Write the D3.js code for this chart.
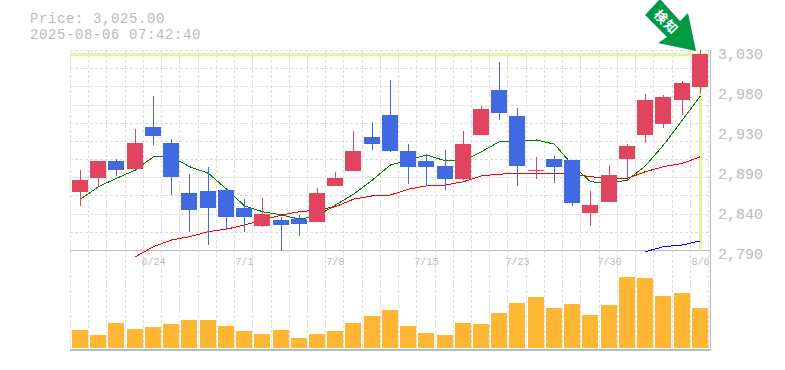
<!DOCTYPE html>
<html>
<head>
<meta charset="utf-8">
<script src="https://cdn.jsdelivr.net/npm/d3@7"></script>
<style>
  html, body { margin: 0; padding: 0; background: #fff; }
  svg { display: block; }
  text { font-family: "Liberation Mono", "DejaVu Sans Mono", monospace; fill: #bbb; }
</style>
</head>
<body>
<svg width="785" height="370"></svg>
<script>
// Values
const opens  = [2860,2876,2897,2887,2938,2918,2858,2861,2862,2840,2819,2826,2827,2824,2867,2885,2926,2952,2909,2897,2891,2875,2928,2982,2951,2885,2899,2898,2834,2848,2899,2928,2941,2970,2986];
const highs  = [2886,2897,2899,2935,2975,2923,2881,2890,2862,2851,2852,2830,2832,2864,2884,2933,2944,2994,2917,2904,2910,2933,2963,3016,2960,2902,2903,2898,2861,2892,2917,2977,2976,2993,3030];
const lows   = [2843,2866,2879,2887,2916,2856,2812,2796,2814,2812,2818,2789,2807,2824,2867,2885,2910,2908,2869,2867,2862,2874,2928,2946,2867,2875,2870,2843,2819,2848,2876,2918,2936,2952,2978];
const closes = [2874,2897,2886,2918,2927,2878,2838,2840,2830,2830,2833,2820,2821,2858,2876,2909,2917,2909,2890,2890,2875,2917,2959,2954,2891,2886,2890,2846,2844,2880,2915,2970,2974,2990,3025];
const volumes = [18,13,25,19,21,24,28,28,22,17,14,18,10,14,17,25,32,38,22,15,13,25,24,35,45,51,40,44,33,43,71,70,52,55,40];

const maShort = [2851,2866,2876,2886,2902,2902,2890,2882,2863,2843,2836,2832,2827,2831,2844,2857,2874,2892,2898,2904,2897,2897,2908,2920,2920,2922,2917,2892,2872,2870,2874,2891,2916,2946,2975];
const maMid   = [null,null,null,2782,2794,2802,2806,2812,2815,2820,2826,2832,2836,2838,2842,2851,2855,2856,2863,2867,2868,2872,2879,2881,2882,2882,2882,2881,2878,2876,2876,2884,2890,2894,2902];
const maLong  = [null,null,null,null,null,null,null,null,null,null,null,null,null,null,null,null,null,null,null,null,null,null,null,null,null,null,null,null,null,null,null,2788,2794,2796,2801];

const priceTicks = [3030,2982,2934,2886,2838,2790];
const dateIdx = [4,9,14,19,24,29,34];
const dateLabels = ["6/24","7/1","7/8","7/15","7/23","7/30","8/6"];
const lastPrice = 3025;

const svg = d3.select("svg");
const days = d3.range(opens.length);

const x = d3.scaleBand().domain(days).range([70, 708]);
const y = d3.scaleLinear().domain([2790, 3030]).range([250, 50]);
const yVol = d3.scaleLinear().domain([0, 80]).range([348, 268]);

const barLeft = (i) => Math.round(x(i)) + 2;
const mid = (i) => barLeft(i) + 8.5;

// Grid
const grid = svg.append("g")
  .attr("stroke", "#ddd")
  .attr("stroke-dasharray", "3,2")
  .attr("shape-rendering", "crispEdges");
d3.range(12).forEach((k) => {
  const gy = Math.round(250 - (k * 200) / 11) + 0.5;
  grid.append("line").attr("x1", 70).attr("x2", 710).attr("y1", gy).attr("y2", gy);
});
days.concat([35]).forEach((i) => {
  const gx = Math.round(70 + i * x.step()) + 0.5;
  grid.append("line").attr("x1", gx).attr("x2", gx).attr("y1", 50).attr("y2", 350);
});

// Frame
const frame = svg.append("g").attr("stroke", "#bbb").attr("shape-rendering", "crispEdges");
frame.append("line").attr("x1", 70).attr("x2", 710).attr("y1", 250.5).attr("y2", 250.5);
frame.append("line").attr("x1", 70).attr("x2", 711).attr("y1", 350).attr("y2", 350).attr("stroke-width", 2);
frame.append("line").attr("x1", 710.5).attr("x2", 710.5).attr("y1", 50).attr("y2", 350);

// Current price markers
svg.append("line")
  .attr("x1", 70).attr("x2", 710)
  .attr("y1", y(lastPrice) + 0.5).attr("y2", y(lastPrice) + 0.5)
  .attr("stroke", "#e0f5a0").attr("stroke-width", 3);
svg.append("line")
  .attr("x1", mid(34)).attr("x2", mid(34))
  .attr("y1", y(lastPrice)).attr("y2", 249)
  .attr("stroke", "#e0f5a0").attr("stroke-width", 3);

// Moving averages
const maLine = d3.line()
  .defined((d) => d != null)
  .x((d, i) => mid(i))
  .y((d) => y(d));
[[maShort, "#008000"], [maMid, "#ff0000"], [maLong, "#0000ff"]].forEach(([vals, color]) => {
  svg.append("path")
    .attr("d", maLine(vals))
    .attr("fill", "none")
    .attr("stroke", color)
    .attr("stroke-width", 1)
    .attr("shape-rendering", "crispEdges");
});

// Candles
const upColor = "#e2445f";
const downColor = "#4169e1";
const candles = svg.append("g").attr("shape-rendering", "crispEdges");
days.forEach((i) => {
  const color = closes[i] >= opens[i] ? upColor : downColor;
  candles.append("line")
    .attr("x1", mid(i)).attr("x2", mid(i))
    .attr("y1", y(highs[i])).attr("y2", y(lows[i]))
    .attr("stroke", color);
  const top = y(Math.max(opens[i], closes[i]));
  const bottom = y(Math.min(opens[i], closes[i]));
  candles.append("rect")
    .attr("x", barLeft(i))
    .attr("y", top)
    .attr("width", 16)
    .attr("height", Math.max(bottom - top, 1))
    .attr("fill", color);
});

// Volume
svg.append("g").attr("shape-rendering", "crispEdges")
  .selectAll("rect")
  .data(volumes)
  .join("rect")
  .attr("x", (d, i) => barLeft(i))
  .attr("y", (d) => yVol(d))
  .attr("width", 16)
  .attr("height", (d) => yVol(0) - yVol(d))
  .attr("fill", "#ffb733");

// Axes
const yAxis = d3.axisRight(y)
  .tickValues(priceTicks)
  .tickSize(0)
  .tickFormat((d) => d3.format(",")(Math.round(d / 10) * 10));
svg.append("g")
  .attr("transform", "translate(718,0)")
  .call(yAxis)
  .call((g) => g.select(".domain").remove())
  .call((g) => g.selectAll("text")
    .attr("x", 0).attr("y", 8).attr("dy", 0)
    .attr("fill", "#bbb")
    .style("font-family", '"Liberation Mono", monospace')
    .style("font-size", "15px"));

const xAxis = d3.axisBottom(d3.scalePoint().domain(dateIdx).range([0, 1]))
  .tickSize(0)
  .tickFormat((d, i) => dateLabels[i]);
svg.append("g")
  .call(xAxis)
  .call((g) => g.select(".domain").remove())
  .call((g) => g.selectAll(".tick")
    .attr("transform", (d) => `translate(${mid(d)},0)`))
  .call((g) => g.selectAll("text")
    .attr("y", 265).attr("dy", 0)
    .attr("fill", "#bbb")
    .style("font-family", '"Liberation Mono", monospace')
    .style("font-size", "10px"));

// Header
svg.append("text").attr("x", 30).attr("y", 22.5).attr("font-size", 14).attr("letter-spacing", 0.6)
  .text("Price: " + d3.format(",.2f")(lastPrice));
svg.append("text").attr("x", 30).attr("y", 38.5).attr("font-size", 14).attr("letter-spacing", 0.6)
  .text("2025-08-06 07:42:40");

// Arrow badge
svg.append("path")
  .attr("d", "M660,-1L645,15L667,37L658,43L696,51L688,13L680,21Z")
  .attr("fill", "#009944");
svg.append("text")
  .attr("transform", "translate(666.5,22) rotate(45)")
  .attr("text-anchor", "middle")
  .attr("dy", "0.38em")
  .style("font-family", '"Noto Sans CJK JP"')
  .style("font-weight", 700)
  .style("font-size", "13px")
  .style("letter-spacing", "1px")
  .style("fill", "#fff")
  .text("検知");
</script>
</body>
</html>
